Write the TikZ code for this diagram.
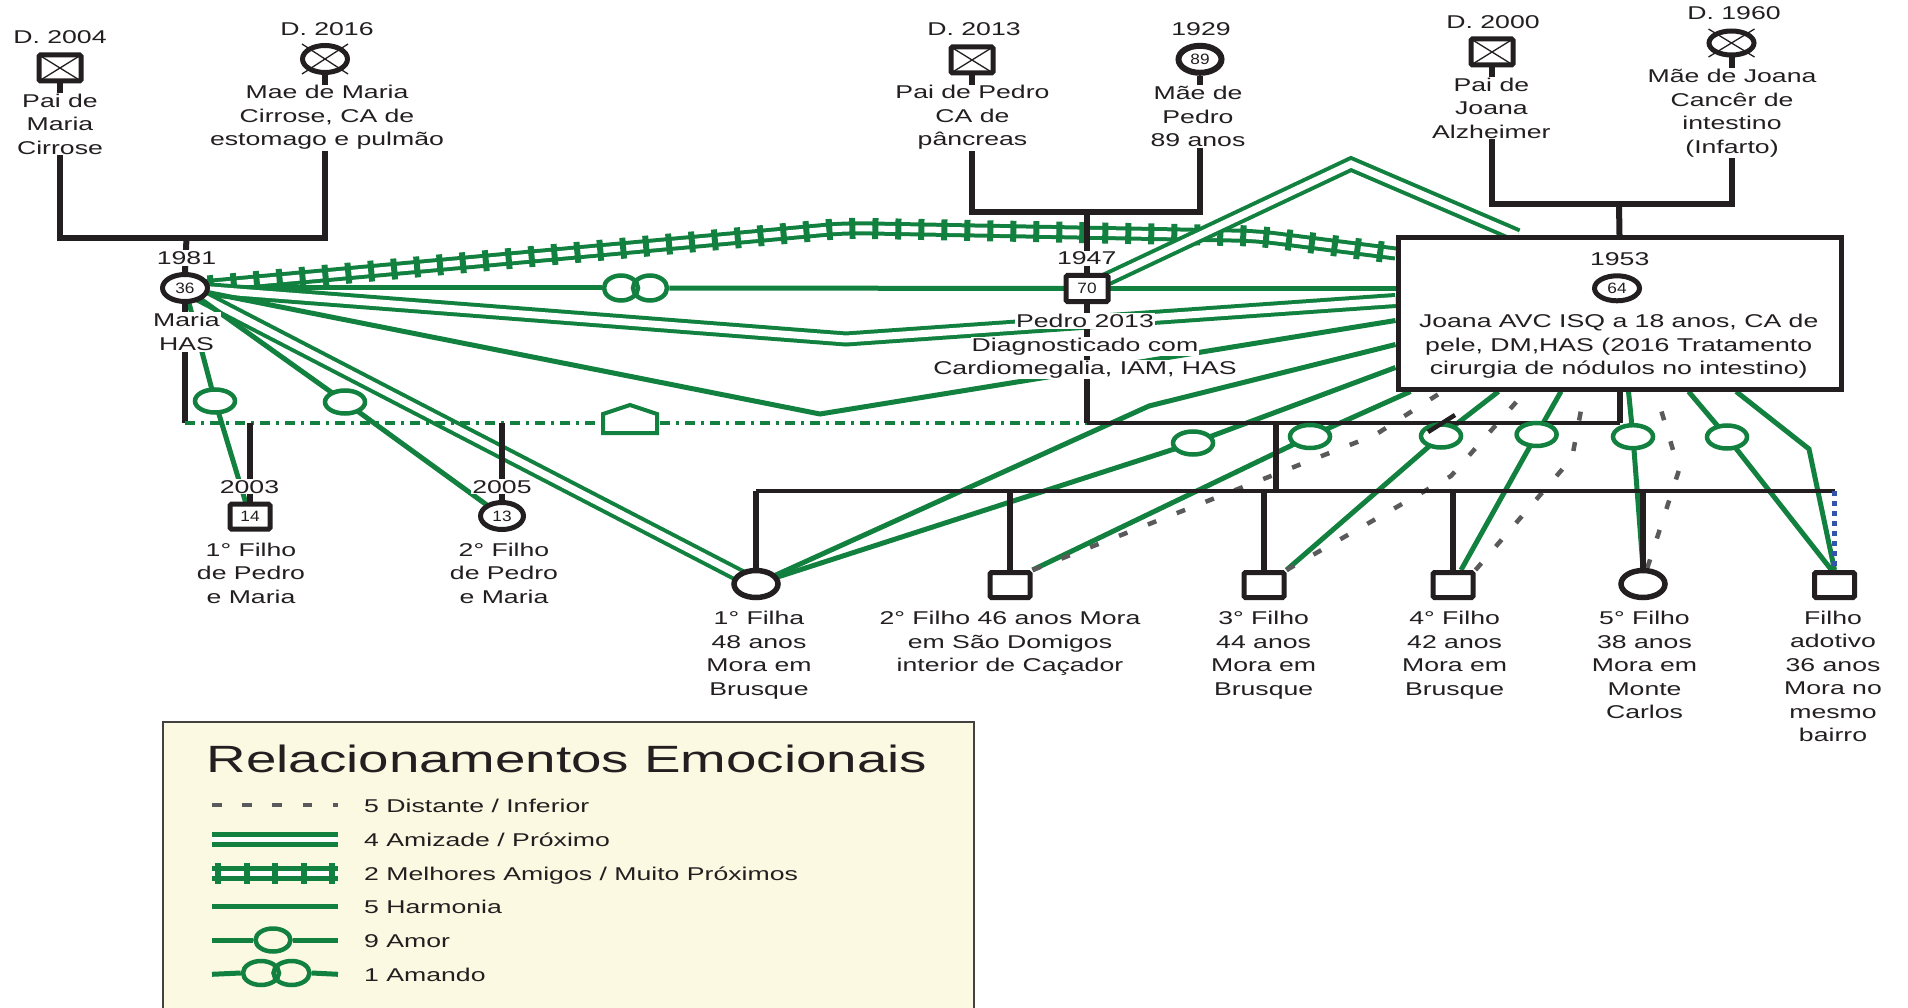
\documentclass[tikz,border=0pt]{standalone}
\usepackage{fontspec}
\setmainfont{Liberation Sans}[FakeStretch=1.44]
\newfontfamily\numfamily{Liberation Sans}[FakeStretch=1.15]
\usetikzlibrary{shapes.geometric,calc}
\definecolor{ink}{RGB}{35,31,32}
\definecolor{grn}{RGB}{18,128,62}
\definecolor{gry}{RGB}{90,90,92}
\definecolor{blu}{RGB}{50,84,170}
\definecolor{cream}{RGB}{251,249,226}
\pgfdeclarelayer{paper}
\pgfdeclarelayer{ties}
\pgfdeclarelayer{kin}
\pgfsetlayers{paper,ties,kin,main}
\newcommand\lblfont{\fontsize{18.5pt}{23.5pt}\selectfont}
\newcommand\agefont{\numfamily\fontsize{15pt}{15pt}\selectfont}
\newcommand\legtitlefont{\fontsize{38pt}{40pt}\selectfont}
\tikzset{
  every node/.style={text=ink},
  lbl/.style={font=\lblfont, align=center, inner sep=1pt, fill=white},
  txt/.style={font=\lblfont, align=center, inner sep=0pt},
  male/.style={rectangle, draw=ink, line width=5pt, fill=white, rounded corners=1.5pt,
    minimum width=42pt, minimum height=26pt, inner sep=0pt, font=\agefont},
  kidm/.style={male, minimum width=40pt, minimum height=25pt},
  female/.style={ellipse, draw=ink, line width=5pt, fill=white,
    minimum width=45pt, minimum height=27pt, inner sep=0pt, font=\agefont},
  kidf/.style={female, line width=5.5pt, minimum width=44pt, minimum height=27pt},
  xline/.style={draw=ink, line width=1.3pt},
  kinline/.style={draw=ink, line width=6pt},
  kinbar/.style={draw=ink, line width=4.5pt},
  mpline/.style={draw=grn, line width=3.5pt, dash pattern=on 10pt off 6pt on 3pt off 6pt},
  harmony/.style={draw=grn, line width=5pt},
  friends/.style={draw=grn, line width=4pt, double=white, double distance=7pt},
  rails/.style={draw=grn, line width=4pt, double=white, double distance=6pt},
  railties/.style={draw=grn, line width=21pt, dash pattern=on 6pt off 17pt},
  distant/.style={draw=gry, line width=4.5pt, dash pattern=on 9pt off 22pt},
  love/.style={ellipse, draw=grn, line width=4.5pt, fill=white,
    minimum width=40pt, minimum height=23pt, inner sep=0pt},
  loving/.style={ellipse, draw=grn, line width=4.5pt,
    minimum width=34pt, minimum height=25pt, inner sep=0pt},
}
\begin{document}
\begin{tikzpicture}[x=1pt,y=-1pt]
\useasboundingbox (0,0) rectangle (1908,1008);
\begin{pgfonlayer}{paper}
  \fill[white] (0,0) rectangle (1908,1008);
\end{pgfonlayer}

% ---------- first generation ----------
\node[male] (paiM) at (60,68) {};
\node[lbl] (paiMy) at (60,37.5) {D. 2004};
\node[lbl] (paiMt) at (60,124) {Pai de\\Maria\\Cirrose};
\node[female] (maeM) at (325,59) {};
\node[lbl] (maeMy) at (327,29) {D. 2016};
\node[lbl] (maeMt) at (327,117.7) {Mae de Maria\\Cirrose, CA de\\estomago e pulmão};

\node[male] (paiP) at (972,60) {};
\node[lbl] (paiPy) at (974,29) {D. 2013};
\node[lbl] (paiPt) at (972.5,117.7) {Pai de Pedro\\CA de\\pâncreas};
\node[female, line width=6pt, minimum width=43pt] (maeP) at (1200,59.3) {89};
\node[lbl] (maePy) at (1201,29) {1929};
\node[lbl] (maePt) at (1198,116.5) {Mãe de\\Pedro\\89 anos};

\node[male] (paiJ) at (1492,52) {};
\node[lbl] (paiJy) at (1493,21.7) {D. 2000};
\node[lbl] (paiJt) at (1491.4,108) {Pai de\\Joana\\Alzheimer};
\node[female, minimum height=24pt] (maeJ) at (1731.5,43) {};
\node[lbl] (maeJy) at (1734,12.8) {D. 1960};
\node[lbl] (maeJt) at (1732,113.2) {Mãe de Joana\\Cancêr de\\intestino\\(Infarto)};

% ---------- second generation ----------
\node[female] (maria) at (185,288) {36};
\node[lbl] (mariay) at (186.5,258) {1981};
\node[lbl] (mariat) at (186.5,332) {Maria\\HAS};

\node[male] (pedro) at (1087,288.5) {70};
\node[lbl] (pedroy) at (1086.7,258.3) {1947};
\node[lbl, anchor=base] (pedrot1) at (1085,327.5) {Pedro 2013};
\node[lbl, anchor=base] (pedrot2) at (1085,351) {Diagnosticado com};
\node[lbl, anchor=base] (pedrot3) at (1085,374.5) {Cardiomegalia, IAM, HAS};

\node[rectangle, draw=ink, line width=5pt, fill=white, minimum width=443pt,
  minimum height=151pt, inner sep=0pt] (joana) at (1619.5,313.5) {};
\node[txt] (joanay) at (1619.7,259.3) {1953};
\node[female, minimum height=25pt] (joanac) at (1617,288.3) {64};
\node[txt] (joanat) at (1618.7,346.5) {Joana AVC ISQ a 18 anos, CA de\\pele, DM,HAS (2016 Tratamento\\cirurgia de nódulos no intestino)};

% ---------- children of Pedro and Maria ----------
\node[kidm] (fil1) at (250,516.7) {14};
\node[lbl] (fil1y) at (249.5,486.7) {2003};
\node[lbl] (fil1t) at (251,573.3) {1° Filho\\de Pedro\\e Maria};
\node[kidf, line width=5pt, minimum width=43pt] (fil2) at (502,516) {13};
\node[lbl] (fil2y) at (502,486.7) {2005};
\node[lbl] (fil2t) at (504,573.3) {2° Filho\\de Pedro\\e Maria};

% ---------- children of Pedro and Joana ----------
\node[kidf] (c1) at (756,584) {};
\node[lbl] (c1t) at (759,655.4) {1° Filha\\48 anos\\Mora em\\Brusque};
\node[kidm] (c2) at (1010,585) {};
\node[lbl] (c2t) at (1010,643.5) {2° Filho 46 anos Mora\\em São Domigos\\interior de Caçador};
\node[kidm] (c3) at (1264,585) {};
\node[lbl] (c3t) at (1263.6,655.4) {3° Filho\\44 anos\\Mora em\\Brusque};
\node[kidm] (c4) at (1453,585) {};
\node[lbl] (c4t) at (1454.6,655.4) {4° Filho\\42 anos\\Mora em\\Brusque};
\node[kidf] (c5) at (1643,584) {};
\node[lbl] (c5t) at (1644.5,665) {5° Filho\\38 anos\\Mora em\\Monte\\Carlos};
\node[kidm] (c6) at (1834.5,585) {};
\node[lbl] (c6t) at (1833,676.5) {Filho\\adotivo\\36 anos\\Mora no\\mesmo\\bairro};

% ---------- relationship marks ----------
\node[loving] (amL) at (621,288) {};
\node[loving] (amR) at (650,288) {};
\node[love] (rA1) at (215,401) {};
\node[love] (rA2) at (345,402) {};
\node[love] (rA3) at (1193,443) {};
\node[love] (rA4) at (1310,436.5) {};
\node[love] (rA5) at (1441,436) {};
\node[love] (rA6) at (1536.6,434.5) {};
\node[love] (rA7) at (1633,436.7) {};
\node[love] (rA8) at (1727,437) {};
% separation stroke on the Pedro--Joana line
\draw[ink, line width=4.5pt] ($(rA5.center)+(-13,-4)$) -- ($(rA5.center)+(14,-21)$);

% crosses of the deceased
\foreach \p in {paiM,paiP,paiJ}{
  \draw[xline] ($(\p.north west)+(2.5,2.5)$) -- ($(\p.south east)+(-2.5,-2.5)$);
  \draw[xline] ($(\p.south west)+(2.5,-2.5)$) -- ($(\p.north east)+(-2.5,2.5)$);
}
\foreach \p/\h in {maeM/15,maeJ/14}{
  \draw[xline] ($(\p.center)+(-23,-\h)$) -- ($(\p.center)+(23,\h)$);
  \draw[xline] ($(\p.center)+(23,-\h)$) -- ($(\p.center)+(-23,\h)$);
}

% ---------- family lines ----------
\coordinate (famM) at (186.5,238);
\coordinate (famP) at (1087,212);
\coordinate (famJ) at (1619,204.5);
\coordinate (mp) at (185,423);
\coordinate (pj) at (1276,423);
\coordinate (kids) at (1276,491);
\begin{pgfonlayer}{kin}
  \draw[kinline] (paiM.south) |- (famM) -| (maeM.south);
  \draw[kinline] (famM) -- (maria.north);
  \draw[kinline] (paiP.south) |- (famP) -| (maeP.south);
  \draw[kinline] (famP) -- (pedro.north);
  \draw[kinline] (paiJ.south) |- (famJ) -| (maeJ.south);
  \draw[kinline] (famJ) -- (joana.north);
  % Maria and Pedro
  \draw[kinline] (maria.south) -- (mp);
  \draw[mpline] (mp) -- (mp -| pedro);
  \draw[kinline] (fil1 |- mp) -- (fil1.north);
  \draw[kinline] (fil2 |- mp) -- (fil2.north);
  % Pedro and Joana
  \draw[kinline] (pedro.south) -- (pedro |- mp);
  \draw[kinbar] (pedro |- mp) -- (joana.south |- mp);
  \draw[kinline] (joana.south |- mp) -- (joana.south);
  \draw[kinline] (pj) -- (kids);
  \draw[kinbar] (c1 |- kids) -- (c6 |- kids);
  \foreach \k in {c1,c2,c3,c4,c5}{
    \draw[kinline] (\k |- kids) -- (\k.north);
  }
  \draw[blu, line width=5pt, dash pattern=on 5pt off 5pt] (c6 |- kids) -- (c6.north);
\end{pgfonlayer}
% household mark on the Maria--Pedro line
\draw[grn, line width=4pt, fill=white, line join=miter]
  (603,433) -- (603,414) -- (630,405) -- (657,414) -- (657,433) -- cycle;

% ---------- emotional ties ----------
\coordinate (rwA) at (846,228);
\coordinate (rwB) at (1257,236);
\coordinate (amzV) at (846,339);
\coordinate (harV) at (820,414);
\coordinate (amzPk) at (1351,164);
\coordinate (h1fB) at (1149,406);
\coordinate (adB) at (1809,449);
\coordinate (g1B) at (1375,435);
\coordinate (g2B) at (1451,476);
\coordinate (g3B) at (1572,458);
\coordinate (g4B) at (1679,470);
\begin{pgfonlayer}{ties}
  % best friends
  \draw[rails, rounded corners=18pt] (maria.center) -- (rwA) -- (rwB) -- ($(joana.north west)+(0,18)$);
  \draw[railties, rounded corners=18pt] (maria.center) -- (rwA) -- (rwB) -- ($(joana.north west)+(0,18)$);
  % loving
  \draw[harmony] (maria.center) -- (amL.west);
  \draw[harmony] (amR.east) -- (pedro.center);
  % friendship
  \draw[friends] (maria.center) -- (amzV) -- ($(joana.north west)+(0,65)$);
  \draw[friends] (pedro.center) -- (amzPk) -- ($(joana.north west)+(122,0)$);
  \draw[friends] (maria.center) -- (c1.center);
  % harmony
  \draw[harmony] (maria.center) -- (harV) -- ($(joana.north west)+(0,85)$);
  \draw[harmony] (pedro.center) -- (pedro.center -| joana.west);
  \draw[harmony] (c1.center) -- (h1fB) -- ($(joana.north west)+(0,109)$);
  \draw[harmony] ($(joana.south west)+(340.6,0)$) -- (adB) -- (c6.north);
  % love
  \draw[harmony] (maria.center) -- (rA1.center) -- (fil1.center);
  \draw[harmony] (maria.center) -- (rA2.center) -- (fil2.center);
  \draw[harmony] (c1.center) -- (rA3.center) -- ($(joana.north west)+(0,132)$);
  \draw[harmony] (c2.north east) -- (rA4.center) -- ($(joana.south west)+(15,0)$);
  \draw[harmony] (c3.north east) -- (rA5.center) -- ($(joana.south west)+(103,0)$);
  \draw[harmony] ($(c4.north)+(8,0)$) -- (rA6.center) -- ($(joana.south west)+(165.5,0)$);
  \draw[harmony] (c5.north) -- (rA7.center) -- ($(joana.south west)+(233,0)$);
  \draw[harmony] ($(c6.north)+(-3,0)$) -- (rA8.center) -- ($(joana.south west)+(293,0)$);
  % distant
  \draw[distant] (c2.north east) -- (g1B) -- ($(joana.south west)+(47,0)$);
  \draw[distant] (c3.north east) -- (g2B) -- ($(joana.south west)+(130,0)$);
  \draw[distant] (c4.north east) -- (g3B) -- ($(joana.south west)+(189,0)$);
  \draw[distant] (c5.75) -- (g4B) -- ($(joana.south west)+(260,0)$);
\end{pgfonlayer}

% ---------- legend ----------
\node[rectangle, draw=ink!85, line width=2pt, fill=cream, minimum width=811pt,
  minimum height=300pt, inner sep=0pt, anchor=north west] (legend) at (162,721) {};
\node[font=\legtitlefont, anchor=base, inner sep=0pt] (legtitle) at (567,772.5) {Relacionamentos Emocionais};
\foreach \i/\yy in {1/805,2/839.3,3/873.3,4/906.7,5/940,6/974.3}{
  \coordinate (la\i) at (212,\yy);
  \coordinate (lb\i) at (338,\yy);
}
\draw[distant, dash pattern=on 9.5pt off 20.7pt] (la1) -- (lb1);
\draw[friends, line width=5pt, double distance=5pt] (la2) -- (lb2);
\draw[rails, line width=5pt, double distance=5pt] (la3) -- (lb3);
\draw[railties, dash pattern=on 6pt off 22.5pt] ($(la3)+(3,0)$) -- (lb3);
\draw[harmony] (la4) -- (lb4);
\node[love, fill=none, minimum width=35pt, minimum height=23pt] (legR) at (273,940) {};
\draw[harmony] (la5) -- (legR.west);
\draw[harmony] (legR.east) -- (lb5);
\node[loving, minimum width=36pt, minimum height=24pt] (legL1) at (261,973) {};
\node[loving, minimum width=36pt, minimum height=24pt] (legL2) at (291.5,973) {};
\draw[harmony] (la6) -- (legL1.west);
\draw[harmony] (legL2.east) -- (lb6);
\node[font=\lblfont, anchor=base west, inner sep=0pt] (lt1) at (364,812) {5 Distante / Inferior};
\node[font=\lblfont, anchor=base west, inner sep=0pt] (lt2) at (364,846.3) {4 Amizade / Próximo};
\node[font=\lblfont, anchor=base west, inner sep=0pt] (lt3) at (364,880.3) {2 Melhores Amigos / Muito Próximos};
\node[font=\lblfont, anchor=base west, inner sep=0pt] (lt4) at (364,913.7) {5 Harmonia};
\node[font=\lblfont, anchor=base west, inner sep=0pt] (lt5) at (364,947.3) {9 Amor};
\node[font=\lblfont, anchor=base west, inner sep=0pt] (lt6) at (364,981.3) {1 Amando};
\end{tikzpicture}
\end{document}
